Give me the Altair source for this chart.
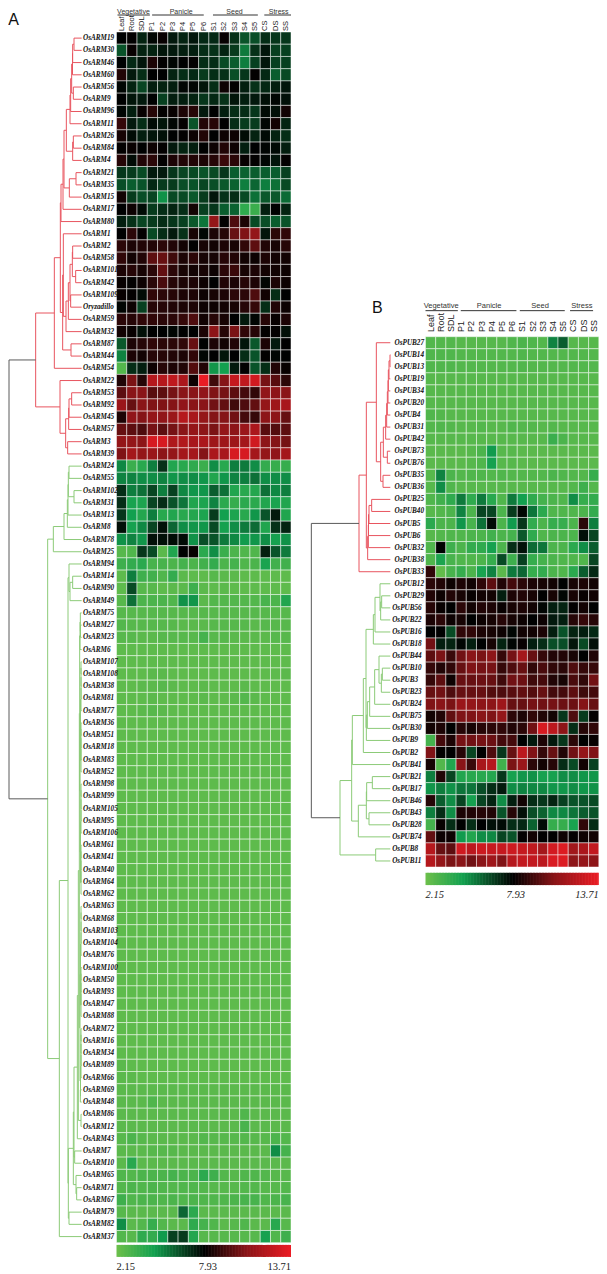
import altair as alt
import pandas as pd
import numpy as np

COLUMNS = ["Leaf","Root","SDL","P1","P2","P3","P4","P5","P6","S1","S2","S3","S4","S5","CS","DS","SS"]
TICKS = ["2.15", "7.93", "13.71"]

ARM_NAMES = ["OsARM19","OsARM30","OsARM46","OsARM60","OsARM56","OsARM9","OsARM96","OsARM11","OsARM26","OsARM84","OsARM4","OsARM21","OsARM35","OsARM15","OsARM17","OsARM80","OsARM1","OsARM2","OsARM58","OsARM101","OsARM42","OsARM109","Oryzadillo","OsARM59","OsARM32","OsARM87","OsARM44","OsARM54","OsARM22","OsARM53","OsARM92","OsARM45","OsARM57","OsARM3","OsARM39","OsARM24","OsARM55","OsARM102","OsARM31","OsARM13","OsARM8","OsARM78","OsARM25","OsARM94","OsARM14","OsARM90","OsARM49","OsARM75","OsARM27","OsARM23","OsARM6","OsARM107","OsARM108","OsARM38","OsARM81","OsARM77","OsARM36","OsARM51","OsARM18","OsARM83","OsARM52","OsARM98","OsARM99","OsARM105","OsARM95","OsARM106","OsARM61","OsARM41","OsARM40","OsARM64","OsARM62","OsARM63","OsARM68","OsARM103","OsARM104","OsARM76","OsARM100","OsARM50","OsARM93","OsARM47","OsARM88","OsARM72","OsARM16","OsARM34","OsARM89","OsARM66","OsARM69","OsARM48","OsARM86","OsARM12","OsARM43","OsARM7","OsARM10","OsARM65","OsARM71","OsARM67","OsARM79","OsARM82","OsARM37"]

ARM_UPPER = [
[7.9,8.0,7.2,7.8,8.1,7.4,7.2,7.5,7.1,7.1,8.1,6.9,6.2,6.3,7,6.8,6.8],
[6.2,8.1,7.2,7.2,7.5,7.4,7.3,7.3,7,6.9,7.2,6.7,5.4,6.9,7.5,6.6,6.6],
[7.9,7.1,7.5,8.5,8.0,7.8,7.9,8.0,7,7,6.4,6,5.3,6.6,7.5,6.6,6.6],
[8.6,7.4,7,7.9,7.9,7.2,7,7.1,6.7,7,6.9,6.3,6.8,8,7.1,6,6.4],
[7.8,7.2,6.5,7.3,7.2,7.3,7.8,7.8,7.5,7,8.2,8,7.3,6.9,7.1,7.3,7.5],
[7.9,7.5,7.4,7.9,6.6,7.3,7.3,7.2,6.8,7.1,6.9,7.5,7.3,7.4,7.6,7.8,7.6],
[7.8,7.3,8.1,8.7,8,8.1,8.5,8.7,7.4,7.9,7.3,7,7,6.8,7.7,7.6,8.3],
[9.0,7.4,7,7.7,7.5,7.8,8,6.2,8.6,8.7,7.9,7,6.7,6.7,7.8,8.3,7.2],
[8.4,7.7,7.3,7.5,7.6,7.9,8,8.2,8.6,7.9,8.2,8.2,7.7,7.2,7.7,7.2,7],
[8,8.1,7.9,8.2,8,7.4,7.2,7.3,7.9,8.2,8.6,8.2,7.3,7.9,7.8,7.7,7.3],
[8.7,7.7,8.6,8.8,8,8.5,8.6,8.6,8.5,8.7,9.1,8.8,8.1,8,7.8,7.5,8],
[6.8,6.7,6.4,7.4,7.4,6.8,6.5,6.4,6.2,6.4,6.8,6,5.9,6,6,6,6.6],
[6.3,6,6.2,7.1,6.7,6.7,6.3,6.2,6.5,6.3,6.1,5.9,5.3,5.8,5.3,5.6,6.4],
[8.3,6.7,6.3,6.5,4.9,6.4,6.4,6.1,6.7,7.5,6.9,7,6.4,5.6,6.1,6.1,5.7],
[7.9,8.2,7.7,6.7,7,7.2,7,8.3,6.6,6.8,6,5.9,3.8,3.5,7.3,7.9,7.2],
[7.3,6.9,6.5,6.7,7,6.8,6.6,6.1,5.5,11,8,9.5,8.5,6.4,6.3,6,6.2],
[7.9,8.8,8,6.4,7,7.4,6.9,8.4,7.8,8.5,8.7,10,10.5,11,7.5,8.8,8.9],
[8.8,8.5,8.6,8.6,8.8,8.6,8.3,7.9,8.4,8.3,8.5,8.4,8.9,9.8,8.6,8.4,8.7],
[8.9,8.3,8.6,9.8,10,9.2,8.5,8.8,8.4,8.4,8.7,8.6,8.3,8.2,8.5,8.3,8.3],
[8.5,8.7,8.4,8.8,9.9,8.8,8.4,8.3,8.4,8.2,8.8,9.1,8.4,8.5,8.3,8.3,8.2],
[8.1,8,8.2,8.8,9.4,8.7,8.5,8.5,8.2,7.9,8.6,8.5,8.7,8.5,7.8,8.5,8.2],
[8.1,8,7.7,8.9,8.8,8.7,8.5,8.5,8.2,8.4,8.5,8.8,8.8,9.5,8.3,7,7.9],
[7.8,8.2,6.6,8.7,8.7,8.6,8.5,8.5,8.2,8.2,8.3,8.4,8.7,9,7,8.6,8.2],
[8.8,8.7,8.9,8.9,8.8,8.8,9,9.5,8.3,8.7,8.4,7.9,7.4,7.8,8.7,8.1,8.5],
[8.3,8.1,7.6,7.9,7.9,7.8,7.9,7.9,8.5,10.8,8.7,10.4,8.9,8.7,8,8,7.6],
[6.1,8.5,8.7,8.9,8.8,8.8,8.9,10,7.9,8.5,8.3,8.6,7.5,6.1,8.5,7.4,7.9],
[5.2,8.5,8.3,8.7,8.7,8.6,8.5,8.9,7.8,7.9,7.5,7.9,7,6.2,8,7.8,7.9],
[2.8,7,7.3,8.2,8.7,8.5,8.6,9.6,8.6,4.8,4.6,7.4,8,6.2,7,8.6,8.1],
[8.6,10.4,8.7,12,12,12.3,11.7,8.2,13.6,9.2,10.6,12.5,12.3,12.8,10.3,9.7,8.8],
[9.8,10.7,10.7,9.7,9.8,10.3,10.7,10.7,10.9,10.5,10.3,9.8,9.3,8.9,10.9,10.8,10.7],
[11.2,10,10.7,10.5,10.5,10.6,10.9,10.7,10.7,10.2,9.9,9.2,9.5,9.9,11,11.3,11.6],
[8.5,10.9,10.6,11,10.9,11.2,12,11.6,11,10.6,10.6,10.2,9.3,9,10.8,10.8,10],
[10,9.8,9.5,10.3,9.8,10.3,10.7,11,10.8,10.4,11,10.8,11.2,11.7,9.7,9.6,9.8],
[11,11,10.8,13,13,11.8,11.9,11.6,11.7,11.3,11.3,11.3,11.5,12.8,10.8,10.6,10.3],
[10.5,11.5,11,11.2,10.8,11,11.5,11.5,10.6,11.7,11.6,13,13,11.5,11,10.9,11.5],
[5.1,3.5,4,5.3,6.9,4.2,4,3.8,3.5,5,4,5.3,5.4,5,3.7,3.6,3.6],
[5.2,5.2,5,5,5.2,4.8,5,5,4.8,4.2,4.8,5.2,5.3,5.6,5,5,5],
[7,5.3,5.6,6.5,5.3,6.6,5.1,4.8,4.8,6,5.6,4.2,4,4.1,5.6,5.1,5.3],
[7,4.4,4.3,6.5,7,6.2,5.5,4.2,4.3,5.2,3.9,3.6,3.9,3.9,4.2,4.4,4.2],
[6.8,4.6,4.1,5.3,4,4.2,4,4.1,4.3,6.7,4.6,4.3,4,4.8,6.2,7.4,4.2],
[7.6,4.5,5.1,6.5,7.6,5.8,5,4.8,4.8,6.4,4.5,5,5.4,5.7,4.2,6.9,7.2],
[4.9,5.2,4.8,7.6,7.6,7.7,7.7,4.9,6.3,6.2,5.4,5.1,4.7,4.8,5,4.5,4.9],
[2.7,2.9,6.8,6.4,2.6,4.2,7.9,8.1,3.9,5,3.5,3,2.9,2.9,7.3,6.2,5.4],
[3.4,3.7,3.9,3.1,3.1,3,3.2,3,3.3,3.7,3,3.2,2.9,3,4.4,3.3,3.3],
[2.5,5.3,3.4,3.3,2.9,3.7,2.6,2.5,2.5,2.7,2.6,2.6,2.5,2.5,2.5,2.5,2.5],
[2.5,6.4,2.7,2.7,2.5,2.6,2.6,3.4,2.6,2.5,2.6,2.5,2.5,2.5,2.5,2.5,2.5],
[2.7,5.6,3,3,3,2.9,4.9,4.8,2.6,2.8,2.8,2.8,2.8,2.8,3.1,3,4.2],
[2.7,2.7,2.7,2.7,2.7,2.7,2.7,2.7,2.7,2.7,2.7,2.7,2.7,2.7,2.7,2.7,2.7],
[2.8,2.7,2.7,2.7,2.7,2.7,2.6,2.6,2.6,2.7,2.7,2.7,2.7,2.6,2.7,2.7,2.7],
[2.7,2.7,2.6,2.6,2.7,2.7,2.7,2.7,3.2,2.7,2.7,2.6,2.6,2.6,2.6,2.7,2.7],
[2.5,2.5,2.5,2.5,2.5,2.5,2.5,2.5,2.5,2.5,2.5,2.5,2.5,2.5,2.5,2.5,2.5],
[2.5,2.5,2.5,2.5,2.5,2.5,2.5,2.5,2.5,2.5,2.5,2.5,2.5,2.5,2.5,2.5,2.5],
[2.5,2.5,2.5,2.6,2.6,2.5,2.5,2.5,2.5,2.5,2.5,2.5,2.5,2.5,2.5,2.5,2.6],
[2.5,2.5,2.6,2.6,2.7,2.6,2.5,2.5,2.6,2.5,2.5,2.5,2.6,2.5,2.5,2.5,2.5],
[2.5,2.5,2.5,2.6,2.5,2.5,2.5,2.5,2.6,2.5,2.5,2.6,2.8,2.6,2.5,2.5,2.5],
[2.5,2.5,2.6,2.7,2.6,2.5,2.5,2.5,2.5,2.5,2.5,2.5,2.5,2.5,2.5,2.5,2.5],
]
ARM_FLAT_ROW = [2.5,2.5,2.5,2.5,2.5,2.5,2.5,2.5,2.5,2.5,2.5,2.5,2.5,2.5,2.5,2.5,2.5]
ARM_LOWER = [
[2.6,2.5,2.5,2.5,2.5,2.5,2.5,2.5,2.5,2.5,2.5,2.5,2.5,2.5,2.5,2.5,2.5],
[2.6,2.6,2.5,2.5,2.5,2.5,2.5,2.5,2.5,2.5,2.5,2.5,2.5,2.5,2.5,2.5,2.5],
[2.6,2.6,2.6,2.6,2.6,2.6,2.6,2.6,2.6,2.6,2.6,2.6,2.6,2.6,2.6,2.6,2.6],
[2.6,2.6,2.6,2.9,2.6,2.6,2.6,2.6,2.6,2.6,2.6,2.6,2.6,2.6,2.6,2.6,2.6],
[2.6,2.6,2.6,2.6,2.6,2.6,2.6,2.6,2.6,2.6,2.6,2.6,2.9,2.6,2.6,2.6,2.6],
[2.6,2.6,2.6,2.6,2.6,2.6,2.6,2.6,2.6,2.6,2.6,2.6,3.1,2.6,2.6,2.6,2.6],
[2.7,3.0,2.7,2.6,2.6,2.6,2.6,2.6,2.8,2.7,2.7,2.7,2.8,2.7,2.7,3.0,2.8],
[2.6,2.6,2.6,2.7,2.7,2.7,2.6,2.6,2.6,2.6,2.6,2.6,2.6,2.6,2.6,5.0,3.2],
[2.6,4.0,2.6,2.6,2.6,2.6,2.6,2.6,2.6,2.6,2.6,2.6,2.6,2.6,2.6,2.6,2.6],
[2.9,2.8,3.0,3.0,3.0,3.2,3.0,3.0,3.9,3.4,2.8,2.7,2.9,2.9,2.8,2.7,2.7],
[2.8,3,2.9,3,2.9,2.8,2.9,2.9,2.8,2.7,2.7,2.7,2.8,2.8,2.7,2.7,2.8],
[3.4,2.9,3,3,2.9,3,2.9,3,2.9,2.9,2.9,3,3.1,3.1,2.9,3,3.1],
[2.7,2.6,2.6,2.6,2.6,2.6,5.8,3.9,2.6,2.6,2.6,2.6,2.6,2.6,2.6,2.6,2.6],
[5,2.6,2.8,3.6,2.8,2.6,2.6,3.8,3.2,2.9,2.6,2.7,2.9,2.6,2.6,4,2.7],
[2.8,2.7,3.8,3.7,4.7,6.6,6.7,4.1,2.7,2.7,2.7,2.7,2.7,2.7,4.5,2.9,3.4],
]
ARM_VALUES = ARM_UPPER + [ARM_FLAT_ROW] * (len(ARM_NAMES) - len(ARM_UPPER) - len(ARM_LOWER)) + ARM_LOWER

PUB_NAMES = ["OsPUB27","OsPUB14","OsPUB13","OsPUB19","OsPUB34","OsPUB20","OsPUB4","OsPUB31","OsPUB42","OsPUB73","OsPUB76","OsPUB35","OsPUB36","OsPUB25","OsPUB40","OsPUB5","OsPUB6","OsPUB32","OsPUB38","OsPUB33","OsPUB12","OsPUB29","OsPUB56","OsPUB22","OsPUB16","OsPUB18","OsPUB44","OsPUB10","OsPUB3","OsPUB23","OsPUB24","OsPUB75","OsPUB30","OsPUB9","OsPUB2","OsPUB41","OsPUB21","OsPUB17","OsPUB46","OsPUB43","OsPUB28","OsPUB74","OsPUB8","OsPUB11"]

PUB_VALUES = [
[2.8,2.8,2.8,2.7,2.7,2.7,2.7,2.7,2.9,3.0,2.9,2.8,5.2,6.0,2.7,2.7,2.7],
[2.9,2.9,2.9,2.8,2.8,2.8,2.8,2.8,2.8,2.9,2.8,2.8,2.8,2.8,2.8,2.8,2.8],
[2.9,2.9,2.9,2.8,2.8,2.8,2.8,2.8,2.8,2.9,2.8,2.8,2.8,2.8,2.8,2.8,2.8],
[2.7,2.7,2.7,2.7,2.7,2.7,2.7,2.7,2.7,2.7,2.7,2.7,2.7,2.7,2.7,2.7,2.7],
[2.7,2.7,2.7,2.7,2.7,2.7,2.7,2.7,2.7,2.7,2.7,2.7,2.7,2.7,2.7,2.7,2.7],
[2.7,2.7,2.7,2.7,2.7,2.7,2.7,2.7,2.7,2.7,2.7,2.7,2.7,2.7,2.7,2.7,2.7],
[2.9,2.8,2.7,2.7,2.7,2.7,2.7,2.7,2.7,2.7,2.7,2.7,2.7,2.7,2.7,2.7,2.7],
[2.8,2.9,2.8,2.7,2.7,2.8,2.7,2.7,2.9,2.8,2.8,2.7,2.8,2.7,2.7,2.7,2.7],
[2.7,2.7,2.7,2.7,2.7,2.7,2.7,2.7,2.7,2.7,2.7,2.7,3.5,3.0,2.7,2.7,2.7],
[2.6,2.6,2.6,2.6,2.7,3.0,4.7,2.7,2.7,2.6,2.6,2.6,2.6,2.6,2.6,2.6,2.6],
[2.6,2.6,2.6,2.6,2.7,2.9,4.5,2.7,2.7,2.6,2.6,2.6,2.6,2.6,2.6,2.6,2.6],
[2.7,5.2,3.0,2.8,2.9,2.9,2.8,2.9,2.8,2.8,2.8,2.8,3.0,2.9,2.8,2.8,3.6],
[2.7,5.0,2.9,2.7,2.7,2.7,2.7,2.7,2.7,2.7,2.7,2.7,2.7,2.7,2.8,3.4,2.8],
[2.9,3.3,3.8,5.4,3.8,5.4,4,2.9,5.4,4.6,3.8,3.2,3.0,2.9,5,3.6,3.7],
[2.7,2.8,3,5.2,3,6.5,6.5,3,6.7,7.8,5.5,3.9,2.9,2.9,2.9,3,3.7],
[3.9,3,3,4.8,3.1,5.6,7.7,3,4.7,6.8,3.7,3,3.6,3.6,3,8.8,5.3],
[2.7,2.8,2.9,2.9,3,3,3.3,3,3.2,6.1,3.8,2.9,3,3,3,7.6,6.5],
[2.9,7.9,3.4,3,3.7,3.8,4.5,3,7,7.6,5.7,5.5,3,3,3.9,5,6],
[2.9,4.3,3.1,2.9,2.9,3,3.6,6.4,3.4,6.6,3.6,3.2,3,2.9,2.9,2.9,6.5],
[8.9,2.4,3.1,3.6,3,4.4,5.2,2.6,5.4,5.8,3.6,3.7,3,2.9,3.9,6,7.1],
[8.8,8.6,8.2,8.5,8.3,8.9,9.8,8.6,9.3,8.8,8.5,8.4,8.3,7.9,8.4,8.5,8.3],
[8.6,8.2,8.6,8.4,8.1,8.3,8.3,7.3,8.5,8.6,8.4,7.9,8.4,7.8,8.4,8.1,8.3],
[8.7,8.1,7.9,8.8,8.3,8.6,8.5,8.1,8.4,8.5,8.3,7.8,7.3,7.2,8,8.3,7.9],
[8.5,8.8,8.2,8.4,7.9,8.2,8.4,8.7,8.4,8.2,7.9,8.2,7.4,7.3,8.7,9,8.7],
[7.9,7.9,6.4,8.9,8.9,8.5,8.4,8.2,7.8,8.3,8.3,8.5,7.3,6.2,7.2,7.3,7.1],
[10.2,7.3,7.2,7.8,7.3,7.9,8.4,7.2,7.8,8.1,7.3,7,6.3,6.3,7.5,6.4,7.6],
[9.8,10.4,9.1,10.2,10.7,10.4,10.8,9,10.3,11.5,10,9,8.6,8.6,8.4,7.9,8.6],
[9,8.6,8.9,10,10.5,10.3,10.3,9,9.5,10,8.9,9.4,8.9,8.8,9.5,9,9],
[9,9.8,8.2,10,10,10.1,10,9.2,10.2,10.1,9.2,9.3,8.6,8.4,9.4,8.9,10.2],
[10,10.2,9.5,10,10,10,9.6,9.5,9.7,9.9,9.6,10,9.3,9.3,9.8,9.2,9.3],
[10.5,10.7,10.4,11.2,11,10.8,10.8,11.3,10,10,10.3,10.2,10.3,10.1,10.1,10.6,10],
[8.3,8.6,9.9,10.5,10.5,10.7,10.5,11,8.8,8.5,8.9,8.6,8.3,6.8,9.5,6.7,8],
[8.3,8.5,7.9,8.7,8.4,8.7,8.8,8.9,8.6,8.8,10.2,13,12.2,10.8,7,8.7,8.9],
[3.2,9.3,8.5,10.3,10.2,10.3,10.1,9.3,9.3,7.9,7.4,8.5,7.4,6.8,8.8,7.9,8.1],
[10.5,8,7.9,8.7,6.5,7.9,9.5,6.8,10,12.2,10.5,9,10,8.6,10.2,11,10.5],
[8.4,2.8,4.2,10.7,9.1,11.6,12,3.3,10.4,11.2,8.8,8.3,8.7,7,6.4,8.3,6.6],
[5.3,8.6,6.5,4.2,4,4,4.1,6.8,4.5,4.8,4.9,4.5,4.5,5,5,4.8,4.8],
[4.8,5.3,4.9,5.5,5.5,6.3,7,7.4,5,5.2,5.1,5.1,4.8,4.8,5,4.8,4.9],
[8.7,6,5,6.5,4.5,6.5,7.2,5,7.3,8.3,7,6.8,7.2,6.6,6.2,6.2,6.4],
[5.3,7,5,8.5,8.6,8.7,8.6,6.2,8.7,7.6,6.3,5.9,5.1,5.1,5.5,6,6.2],
[3.2,8.1,7,7.9,7,7.9,7.6,7.7,7,7.1,5.9,7.7,3.6,3.6,4.4,8.9,7],
[9.9,8.2,8.2,4.7,4.2,5,5.1,6.5,6.2,8,8.3,7.9,7.9,8.2,8,8.2,8.3],
[12,10,9.8,12.8,12.2,12.7,12.5,12.5,12.7,12.5,12.3,11.5,12.9,13.2,11.4,11.7,12.4],
[12,11,10.4,10.7,10.2,10.7,11.3,10.5,12,12.4,12.4,12.2,13.1,13.2,10.8,11,10.8],
]


def chain(z, *items):
    node = items[0]
    for it in items[1:]:
        node = (z, node, it)
    return node


A = lambda n: "OsARM%d" % n
P = lambda n: "OsPUB%d" % n

a_top = (217.5, (218, (222, A(19), A(30)), A(46)), A(60))
a_e = (210, (212, (215, a_top, (220, A(56), A(9))), A(96)), A(11))
a_f = (218, (220, A(26), A(84)), A(4))
a_k = (183, (189, (192, (199, a_e, a_f), (208, (228, A(21), A(35)), A(15))), A(17)), A(80))
a_d = (205, (210, (217, (218, A(2), A(58)), (227, A(101), A(42))), (212, A(109), "Oryzadillo")), A(59))
a_g = (188, (190, A(1), (198, a_d, A(32))), (213, A(87), A(44)))
a_r1 = (163, (181, a_k, a_g), A(54))
a_n = (197, (206, (207, (215, A(53), A(92)), A(45)), A(57)), (203, A(3), A(39)))
ARM_RED = (107, a_r1, (180, A(22), a_n))

a_m = (202, (204, (205, (207, A(24), A(55)), (222, A(102), A(31))), A(13)), A(8))
a_g1 = (160, (192, a_m, A(78)), A(25))
a_q = (207, A(94), (210, (218, A(14), A(90)), A(49)))
a_c1 = (240, (241, A(75), (241.5, A(27), A(23))), A(6))
g1 = chain(243, A(107), A(108), A(38), A(81), A(77))
g2 = chain(243, A(36), A(51), A(18), A(83), A(52))
g3 = chain(243, A(98), A(99), A(105), A(95), A(106))
g4 = chain(243, A(61), A(41), A(40), A(64), A(62))
g5 = chain(243, A(63), A(68), A(103), A(104), A(76))
g6 = chain(243, A(100), A(50), A(93), A(47), A(88))
g7 = chain(243, A(72), A(16), A(34), A(89), A(66))
a_all = (238, (239, a_c1, (240, (241.5, g1, g2), (241.5, g3, g4))),
         (240, (241.5, g5, g6), (241.5, g7, (241, A(69), A(48)))))
a_big = (232, (235, a_all, (243, A(86), A(12))), A(43))
a_k2 = (220, (222, a_big, (224, A(7), A(10))), (228, A(65), (230, A(71), A(67))))
a_h = (204, a_q, (205, a_k2, (207, A(79), A(82))))
ARM_GREEN = (143, a_g1, (178, a_h, A(37)))

p_v = chain(258, P(14), P(13))
p_v = (245, (248, (250, (252, (253, (255, p_v, P(19)), P(34)), P(20)), P(4)), P(31)), P(42))
p_s = (230, (238, p_v, (250, P(73), P(76))), (237, P(35), P(36)))
p_q = (191, (193, (193.5, (195, (203, P(25), P(40)), P(5)), P(6)), P(32)), P(38))
PUB_RED = (165, (187, (217, P(27), p_s), p_q), P(33))
p_u = (208, (213, (228, P(12), (230, (233, P(29), P(56)), P(22))), P(16)), P(18))
p_l = (225, P(44), (232, (235, P(10), P(3)), P(23)))
p_l = (190, (197, (212, p_l, P(24)), P(75)), P(30))
p_w1 = (145, (178, (186, p_u, (187, p_l, P(9))), P(2)), P(41))
p_w2 = (163, (187, (188, (205, P(21), P(17)), P(46)), (195, P(43), P(28))), P(74))
PUB_GREEN = (108, (143, p_w1, p_w2), (215, P(8), P(11)))

HEADERS = ["Vegetative", "Panicle", "Seed", "Stress"]
ARM_HEAD_POS = [1.65, 6.3, 11.5, 15.8]
ARM_HEAD_LINES = [(0.1, 3.25), (3.47, 8.5), (9.4, 13.77), (14.4, 17)]
PUB_HEAD_POS = [1.54, 6.24, 11.24, 15.33]
PUB_HEAD_LINES = [(0, 3.17), (3.46, 8.92), (9.25, 13.66), (14.18, 16.44)]

STOPS = [2.15, 4.6, 7.93, 10.7, 13.71]
COLORS = ["#6BBF4B", "#12A04F", "#000000", "#8A1518", "#ED1C24"]
color_scale = alt.Scale(domain=STOPS, range=COLORS, interpolate="rgb", clamp=True)

SANS = "Liberation Sans"
SERIF = "Liberation Serif"
RED = "#E8555F"
GREEN = "#8CCB78"
ROOT = "#5A5A5A"


def segments(root, names, tip):
    rows = {n: i + 0.5 for i, n in enumerate(names)}
    out = []

    def walk(node):
        if isinstance(node, str):
            return tip, rows[node]
        z, l, r = node
        lz, ly = walk(l)
        rz, ry = walk(r)
        out.append(dict(x=z, x2=z, y=ly, y2=ry))
        out.append(dict(x=z, x2=lz, y=ly, y2=ly))
        out.append(dict(x=z, x2=rz, y=ry, y2=ry))
        return z, (ly + ry) / 2

    walk(root)
    return out


def q(field, scale):
    return alt.X(field, type="quantitative", scale=scale, axis=None)


def qy(field, scale):
    return alt.Y(field, type="quantitative", scale=scale, axis=None)


def panel(names, values, red, green, root_z, colx, rowy, dx, head_pos, head_lines, head_row, line_row, lab_row,
          lab_size, head_size, label_col, bar_rows, tick_row, tick_pos, tick_style, tip):
    n = len(names)
    xs = alt.Scale(domain=[0, 17], range=colx, zero=False, nice=False)
    ys = alt.Scale(domain=[0, n], range=rowy, zero=False, nice=False)
    ds = alt.Scale(domain=[0, 300], range=dx, zero=False, nice=False)
    layers = []

    cells = pd.DataFrame([dict(c=j, c2=j + 1, r=i, r2=i + 1, v=values[i][j])
                          for i in range(n) for j in range(17)])
    layers.append(alt.Chart(cells).mark_rect(stroke="#ffffff", strokeOpacity=0.6, strokeWidth=0.8).encode(
        x=q("c", xs), x2="c2", y=qy("r", ys), y2="r2",
        color=alt.Color("v:Q", scale=color_scale, legend=None)))

    all_seg = segments((root_z, red, green), names, tip)
    nr = len(segments(red, names, tip))
    ng = len(segments(green, names, tip))
    for seg, col in ((all_seg[:nr], RED), (all_seg[nr:nr + ng], GREEN), (all_seg[nr + ng:], ROOT)):
        layers.append(alt.Chart(pd.DataFrame(seg)).mark_rule(color=col, strokeWidth=1).encode(
            x=q("x", ds), x2="x2", y=qy("y", ys), y2="y2"))

    labs = pd.DataFrame(dict(name=names, c=[label_col(i, nm) for i, nm in enumerate(names)],
                             r=[i + 0.5 for i in range(n)]))
    layers.append(alt.Chart(labs).mark_text(align="left", baseline="middle", font=SERIF, fontSize=7.2,
                                            fontWeight="bold", fontStyle="italic", color="#111111").encode(
        x=q("c", xs), y=qy("r", ys), text="name:N"))

    coll = pd.DataFrame(dict(name=COLUMNS, c=[i + 0.5 for i in range(17)], r=[lab_row] * 17))
    layers.append(alt.Chart(coll).mark_text(angle=270, align="left", baseline="middle", font=SANS,
                                            fontSize=lab_size, color="#222222").encode(
        x=q("c", xs), y=qy("r", ys), text="name:N"))

    heads = pd.DataFrame(dict(name=HEADERS, c=head_pos, r=[head_row] * 4))
    layers.append(alt.Chart(heads).mark_text(align="center", baseline="middle", font=SANS, fontSize=head_size,
                                             color="#333333").encode(
        x=q("c", xs), y=qy("r", ys), text="name:N"))
    hl = pd.DataFrame([dict(a=a, b=b, r=line_row) for a, b in head_lines])
    layers.append(alt.Chart(hl).mark_rule(color="#333333", strokeWidth=1).encode(
        x=q("a", xs), x2="b", y=qy("r", ys)))

    ramp = np.linspace(2.15, 13.71, 117)
    pos = (ramp - 2.15) / 11.56 * 17
    bar = pd.DataFrame(dict(v=ramp, c=pos, c2=np.minimum(pos + 0.2, 17),
                            r=[bar_rows[0]] * 117, r2=[bar_rows[1]] * 117))
    bar = bar[bar.c < 17]
    layers.append(alt.Chart(bar).mark_rect().encode(
        x=q("c", xs), x2="c2", y=qy("r", ys), y2="r2",
        color=alt.Color("v:Q", scale=color_scale, legend=None)))

    for text, p, al in zip(TICKS, tick_pos, ["left", "center", "right"]):
        tk = pd.DataFrame(dict(name=[text], c=[p], r=[tick_row]))
        layers.append(alt.Chart(tk).mark_text(align=al, baseline="middle", font=SERIF, fontSize=10.5,
                                              fontStyle=tick_style, color="#222222").encode(
            x=q("c", xs), y=qy("r", ys), text="name:N"))
    return layers


def pub_label(i, nm):
    return -3.04 if (i < 20 or nm in ("OsPUB12", "OsPUB29")) else -3.27


layers = []
layers += panel(ARM_NAMES, ARM_VALUES, ARM_RED, ARM_GREEN, 27,
                [108.5, 283], [24, 1234.7], [-8, 92],
                ARM_HEAD_POS, ARM_HEAD_LINES, -1.66, -1.39, -0.08, 7.5, 7,
                lambda i, nm: -3.26, (99.18, 100.16), 101, [0, 8.9, 17], "normal", 245)
layers += panel(PUB_NAMES, PUB_VALUES, PUB_RED, PUB_GREEN, 22,
                [417.5, 590.8], [328.7, 859], [296, 396],
                PUB_HEAD_POS, PUB_HEAD_LINES, -2.57, -2.16, -0.39, 9, 7.5,
                pub_label, (44.48, 45.5), 46.35, [0, 8.85, 17], "italic", 259)

letter_x = alt.Scale(domain=[0, 17], range=[108.5, 283], zero=False, nice=False)
letter_y = alt.Scale(domain=[0, 99], range=[24, 1234.7], zero=False, nice=False)
letter = pd.DataFrame(dict(name=["A", "B"], c=[-10.55, 24.9], r=[-0.55, 22.98]))
layers.append(alt.Chart(letter).mark_text(align="left", baseline="alphabetic", font=SANS, fontSize=16,
                                          color="#111111").encode(
    x=q("c", letter_x), y=qy("r", letter_y), text="name:N"))

chart = alt.layer(*layers).resolve_scale(x="independent", y="independent", color="independent").properties(
    width=591, height=1264, padding=0, autosize="none").configure_view(strokeWidth=0)

chart.save("out.html", embed_options={"renderer": "svg", "actions": False})
